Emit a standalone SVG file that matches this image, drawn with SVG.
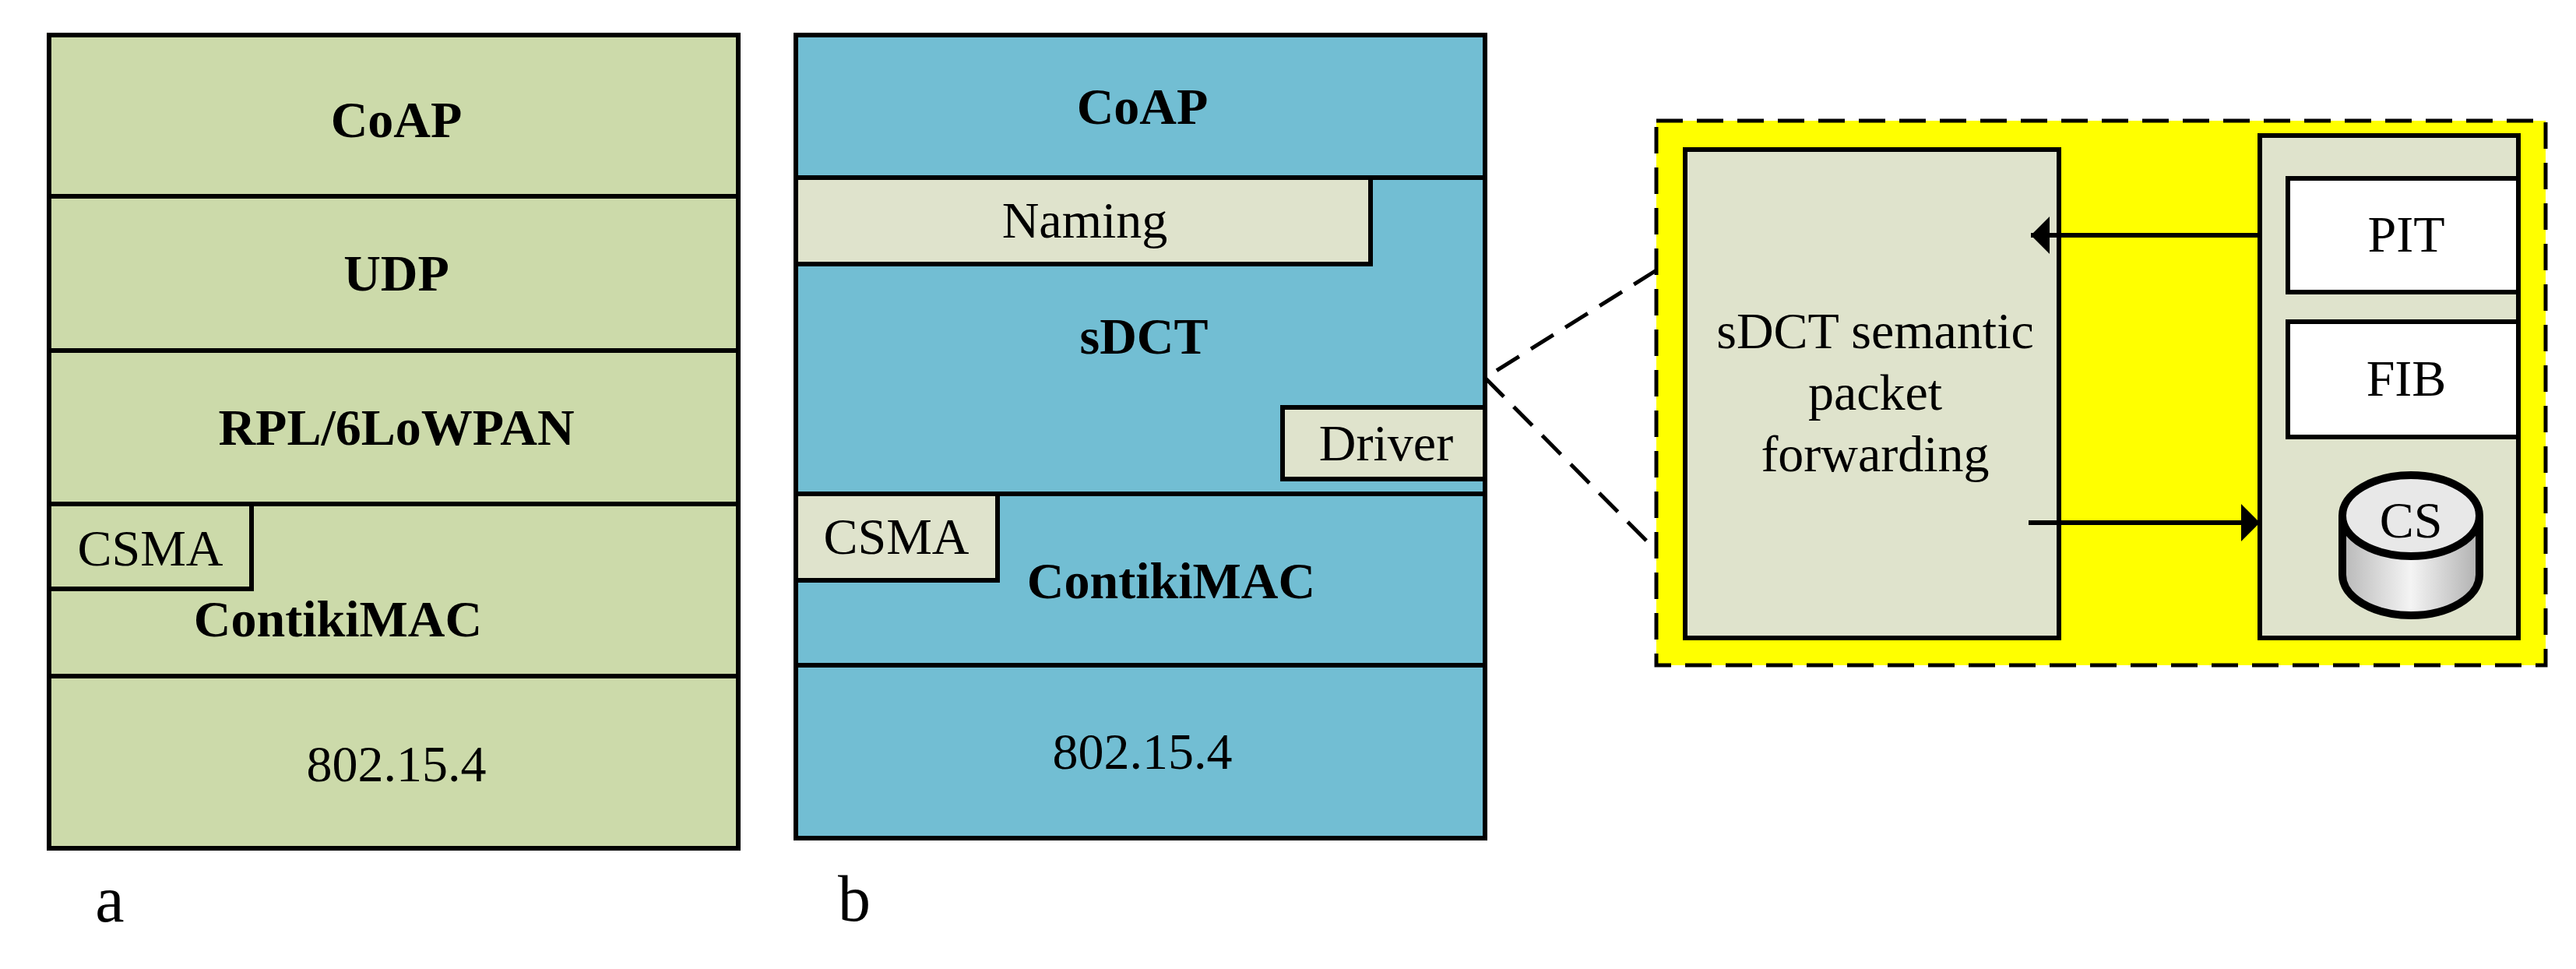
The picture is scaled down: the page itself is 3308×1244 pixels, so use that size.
<svg xmlns="http://www.w3.org/2000/svg" width="3308" height="1244" viewBox="0 0 3308 1244">
<style>
.t{font-family:"Liberation Serif","Times New Roman",serif;font-size:66px;fill:#000;text-anchor:middle}
.b{font-weight:bold}
.s{stroke:#000;stroke-width:6}
.d{stroke:#000;stroke-width:5;stroke-dasharray:34 18}
</style>
<defs>
<marker id="ah" viewBox="0 0 24 48" refX="24" refY="24" markerWidth="24" markerHeight="48" markerUnits="userSpaceOnUse" orient="auto"><path d="M0,0 L24,24 L0,48 Z" fill="#000"/></marker>
<linearGradient id="cg" x1="0" x2="1"><stop offset="0" stop-color="#b8b8b8"/><stop offset="0.5" stop-color="#f4f4f4"/><stop offset="1" stop-color="#b0b0b0"/></linearGradient>
</defs>
<rect width="3308" height="1244" fill="#fff"/>
<g id="stackA">
<rect x="63" y="45" width="885" height="1044" fill="#CCDAAA" class="s"/>
<line x1="63" y1="252" x2="948" y2="252" class="s"/>
<line x1="63" y1="450" x2="948" y2="450" class="s"/>
<line x1="63" y1="647" x2="948" y2="647" class="s"/>
<line x1="63" y1="868" x2="948" y2="868" class="s"/>
<rect x="63" y="647" width="260" height="109" fill="#CCDAAA" class="s"/>
<text x="509" y="176" class="t b">CoAP</text>
<text x="509" y="373" class="t b">UDP</text>
<text x="509" y="571" class="t b">RPL/6LoWPAN</text>
<text x="193" y="726" class="t">CSMA</text>
<text x="434" y="817" class="t b">ContikiMAC</text>
<text x="509" y="1003" class="t">802.15.4</text>
<text x="141" y="1183" class="t" style="font-size:84px">a</text>
</g>
<g id="stackB">
<rect x="1022" y="45" width="885" height="1031" fill="#72BED3" class="s"/>
<line x1="1022" y1="228" x2="1907" y2="228" class="s"/>
<line x1="1022" y1="634" x2="1907" y2="634" class="s"/>
<line x1="1022" y1="854" x2="1907" y2="854" class="s"/>
<rect x="1022" y="228" width="738" height="111" fill="#DFE3CC" class="s"/>
<rect x="1647" y="523" width="260" height="92" fill="#DFE3CC" class="s"/>
<rect x="1022" y="634" width="259" height="111" fill="#DFE3CC" class="s"/>
<text x="1467" y="159" class="t b">CoAP</text>
<text x="1393" y="305" class="t">Naming</text>
<text x="1469" y="454" class="t b">sDCT</text>
<text x="1780" y="591" class="t">Driver</text>
<text x="1151" y="711" class="t">CSMA</text>
<text x="1504" y="768" class="t b">ContikiMAC</text>
<text x="1467" y="987" class="t">802.15.4</text>
<text x="1097" y="1182" class="t" style="font-size:84px">b</text>
</g>
<g id="detail">
<rect x="2127" y="155" width="1142" height="699" fill="#FFFF00" class="d"/>
<rect x="2164" y="192" width="480" height="627" fill="#DFE3CC" class="s"/>
<text x="2408" y="447" class="t">sDCT semantic</text>
<text x="2408" y="526" class="t">packet</text>
<text x="2408" y="605" class="t">forwarding</text>
<rect x="2902" y="174" width="332" height="645" fill="#DFE3CC" class="s"/>
<rect x="2938" y="229" width="296" height="146" fill="#fff" class="s"/>
<text x="3090" y="323" class="t">PIT</text>
<rect x="2938" y="413" width="296" height="148" fill="#fff" class="s"/>
<text x="3090" y="508" class="t">FIB</text>
<g id="cs">
<path d="M3008,662 L3008,738 A88,52 0 0 0 3184,738 L3184,662" fill="url(#cg)" stroke="#000" stroke-width="10"/>
<ellipse cx="3096" cy="662" rx="88" ry="52" fill="#e8e8e8" stroke="#000" stroke-width="10"/>
<text x="3096" y="690" class="t">CS</text>
</g>
</g>
<g id="connectors">
<polyline points="2127,347 1907,485 2127,707" class="d" fill="none"/>
<line x1="2902" y1="302" x2="2608" y2="302" class="s" marker-end="url(#ah)"/>
<line x1="2605" y1="671" x2="2902" y2="671" class="s" marker-end="url(#ah)"/>
</g>
</svg>
